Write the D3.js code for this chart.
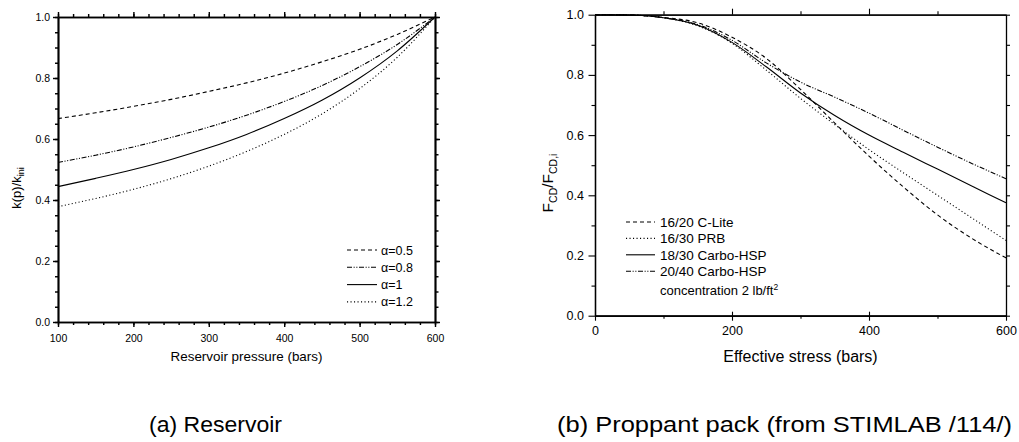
<!DOCTYPE html>
<html>
<head>
<meta charset="utf-8">
<script src="https://cdn.jsdelivr.net/npm/d3@7"></script>
<style>
  body { margin: 0; background: #fff; }
  svg { display: block; }
  text { font-family: "Liberation Sans", Arial, Helvetica, sans-serif; fill: #000; }
</style>
</head>
<body>
<script>
// (a) reservoir: k(p)/k_ini against reservoir pressure
var pressure = [100, 150, 200, 250, 300, 350, 400, 450, 500, 550, 600];
var kAlpha05 = [0.667, 0.686, 0.707, 0.730, 0.756, 0.784, 0.816, 0.853, 0.894, 0.943, 1.0];
var kAlpha08 = [0.523, 0.547, 0.574, 0.605, 0.639, 0.678, 0.723, 0.775, 0.837, 0.910, 1.0];
var kAlpha1  = [0.444, 0.471, 0.500, 0.533, 0.571, 0.615, 0.667, 0.727, 0.800, 0.889, 1.0];
var kAlpha12 = [0.378, 0.405, 0.435, 0.470, 0.511, 0.559, 0.615, 0.682, 0.765, 0.868, 1.0];
var alphaLabels = ["\u03b1=0.5", "\u03b1=0.8", "\u03b1=1", "\u03b1=1.2"];

// (b) proppant pack: F_CD/F_CD,i against effective stress
var stress = [0, 50, 100, 150, 200, 250, 300, 350, 400, 450, 500, 550, 600];
var fcdCLite   = [1.0, 0.999, 0.991, 0.973, 0.925, 0.855, 0.752, 0.640, 0.530, 0.428, 0.335, 0.257, 0.192];
var fcdPRB     = [1.0, 0.999, 0.990, 0.963, 0.905, 0.816, 0.722, 0.635, 0.552, 0.475, 0.400, 0.325, 0.250];
var fcdHSP1830 = [1.0, 0.999, 0.990, 0.965, 0.908, 0.827, 0.740, 0.665, 0.600, 0.543, 0.487, 0.431, 0.375];
var fcdHSP2040 = [1.0, 0.999, 0.990, 0.967, 0.915, 0.840, 0.776, 0.726, 0.673, 0.616, 0.560, 0.506, 0.455];
var proppantLabels = ["16/20 C-Lite", "16/30 PRB", "18/30 Carbo-HSP", "20/40 Carbo-HSP"];

var captions = ["(a) Reservoir", "(b) Proppant pack (from STIMLAB /114/)"];

// line styles
var dashed = "4,3", dotted = "1.1,2.4", dashDotDot = "5,1.6,1.1,1.6,1.1,1.6", solid = null;

var svg = d3.select("body").append("svg")
    .attr("width", 1019)
    .attr("height", 442);

function styleAxis(g, lw, fs) {
    g.select(".domain").attr("stroke-width", lw);
    g.selectAll(".tick line").attr("stroke-width", lw * 0.85);
    g.selectAll("text").style("font-size", fs + "px");
}

// ---------- panel (a) ----------
var xL = d3.scaleLinear().domain([100, 600]).range([58, 435]);
var yL = d3.scaleLinear().domain([0, 1]).range([322, 17]);
var gL = svg.append("g");

function axesL() {
    var lw = 1.7, fs = 10.5;
    // bottom
    gL.append("g").attr("transform", "translate(0,322)")
        .call(d3.axisBottom(xL).tickValues(d3.range(100, 601, 20)).tickSize(3).tickSizeOuter(0).tickFormat(""))
        .call(styleAxis, lw, fs);
    gL.append("g").attr("transform", "translate(0,322)")
        .call(d3.axisBottom(xL).tickValues(d3.range(100, 601, 100)).tickSize(5).tickSizeOuter(0).tickPadding(7.5).tickFormat(d3.format("d")))
        .call(styleAxis, lw, fs);
    // top
    gL.append("g").attr("transform", "translate(0,17)")
        .call(d3.axisTop(xL).tickValues(d3.range(100, 601, 20)).tickSize(3).tickSizeOuter(0).tickFormat(""))
        .call(styleAxis, lw, fs);
    gL.append("g").attr("transform", "translate(0,17)")
        .call(d3.axisTop(xL).tickValues(d3.range(100, 601, 100)).tickSize(5).tickSizeOuter(0).tickFormat(""))
        .call(styleAxis, lw, fs);
    // left
    gL.append("g").attr("transform", "translate(58,0)")
        .call(d3.axisLeft(yL).tickValues(d3.range(0, 21).map(function(i) { return i * 0.05; })).tickSize(3).tickSizeOuter(0).tickFormat(""))
        .call(styleAxis, lw, fs);
    gL.append("g").attr("transform", "translate(58,0)")
        .call(d3.axisLeft(yL).tickValues([0, 0.2, 0.4, 0.6, 0.8, 1.0]).tickSize(5).tickSizeOuter(0).tickPadding(3).tickFormat(d3.format(".1f")))
        .call(styleAxis, lw, fs);
    // right
    gL.append("g").attr("transform", "translate(435,0)")
        .call(d3.axisRight(yL).tickValues(d3.range(0, 21).map(function(i) { return i * 0.05; })).tickSize(3.5).tickSizeOuter(0).tickFormat(""))
        .call(styleAxis, lw, fs);
    gL.append("g").attr("transform", "translate(435,0)")
        .call(d3.axisRight(yL).tickValues([0, 0.2, 0.4, 0.6, 0.8, 1.0]).tickSize(5).tickSizeOuter(0).tickFormat(""))
        .call(styleAxis, lw, fs);
}
axesL();

var seriesL = [kAlpha05, kAlpha08, kAlpha1, kAlpha12];
var dashL = [dashed, dashDotDot, solid, dotted];

var lineL = d3.line()
    .x(function(d, i) { return xL(pressure[i]); })
    .y(function(d) { return yL(d); })
    .curve(d3.curveMonotoneX);

gL.selectAll(".curve")
    .data(seriesL)
    .enter().append("path")
    .attr("class", "curve")
    .attr("d", lineL)
    .attr("fill", "none")
    .attr("stroke", "#000")
    .attr("stroke-width", 1.1)
    .attr("stroke-dasharray", function(d, i) { return dashL[i]; });

// legend (a)
var legL = gL.append("g");
alphaLabels.forEach(function(lab, i) {
    var yy = 250 + i * 17.3;
    legL.append("line").attr("x1", 347).attr("x2", 377).attr("y1", yy).attr("y2", yy)
        .attr("stroke", "#000").attr("stroke-width", 1.1).attr("stroke-dasharray", dashL[i]);
    legL.append("text").attr("x", 381).attr("y", yy + 4.5).style("font-size", "12.5px").text(lab);
});

// axis titles (a)
gL.append("text")
    .attr("x", 246.5).attr("y", 361)
    .attr("text-anchor", "middle")
    .style("font-size", "13.4px")
    .text("Reservoir pressure (bars)");

var yTitleL = gL.append("text")
    .attr("transform", "translate(20.5,188) rotate(-90)")
    .attr("text-anchor", "middle")
    .style("font-size", "13px");
yTitleL.append("tspan").text("k(p)/k");
yTitleL.append("tspan").attr("dy", 3).style("font-size", "9px").text("ini");

// ---------- panel (b) ----------
var xR = d3.scaleLinear().domain([0, 600]).range([595, 1006]);
var yR = d3.scaleLinear().domain([0, 1]).range([315.7, 14.7]);
var gR = svg.append("g");

function axesR() {
    var lw = 1.3, fs = 12.5;
    // bottom
    gR.append("g").attr("transform", "translate(0,315.7)")
        .call(d3.axisBottom(xR).tickValues([100, 300, 500]).tickSize(3).tickSizeOuter(0).tickFormat(""))
        .call(styleAxis, lw, fs);
    gR.append("g").attr("transform", "translate(0,315.7)")
        .call(d3.axisBottom(xR).tickValues([200, 400]).tickSize(-4).tickSizeOuter(0).tickFormat(""))
        .call(styleAxis, lw, fs);
    gR.append("g").attr("transform", "translate(0,315.7)")
        .call(d3.axisBottom(xR).tickValues([0, 200, 400, 600]).tickSize(5).tickSizeOuter(0).tickPadding(5.5).tickFormat(d3.format("d")))
        .call(styleAxis, lw, fs);
    // top
    gR.append("g").attr("transform", "translate(0,14.7)")
        .call(d3.axisTop(xR).tickValues([100, 300, 500]).tickSize(3.5).tickSizeOuter(0).tickFormat(""))
        .call(styleAxis, lw, fs);
    gR.append("g").attr("transform", "translate(0,14.7)")
        .call(d3.axisTop(xR).tickValues([200, 400]).tickSize(6).tickSizeOuter(0).tickFormat(""))
        .call(styleAxis, lw, fs);
    // left
    gR.append("g").attr("transform", "translate(595,0)")
        .call(d3.axisLeft(yR).tickValues([0.1, 0.3, 0.5, 0.7, 0.9]).tickSize(3.5).tickSizeOuter(0).tickFormat(""))
        .call(styleAxis, lw, fs);
    gR.append("g").attr("transform", "translate(595,0)")
        .call(d3.axisLeft(yR).tickValues([0, 0.2, 0.4, 0.6, 0.8, 1.0]).tickSize(6.5).tickSizeOuter(0).tickPadding(4.5).tickFormat(d3.format(".1f")))
        .call(styleAxis, lw, fs);
    // right
    gR.append("g").attr("transform", "translate(1006,0)")
        .call(d3.axisRight(yR).tickValues(d3.range(0, 11).map(function(i) { return i * 0.1; })).tickSize(4).tickSizeOuter(0).tickFormat(""))
        .call(styleAxis, lw, fs);
}
axesR();

var seriesR = [fcdCLite, fcdPRB, fcdHSP1830, fcdHSP2040];
var dashR = [dashed, dotted, solid, dashDotDot];

var lineR = d3.line()
    .x(function(d, i) { return xR(stress[i]); })
    .y(function(d) { return yR(d); })
    .curve(d3.curveMonotoneX);

gR.selectAll(".curve")
    .data(seriesR)
    .enter().append("path")
    .attr("class", "curve")
    .attr("d", lineR)
    .attr("fill", "none")
    .attr("stroke", "#000")
    .attr("stroke-width", 1.1)
    .attr("stroke-dasharray", function(d, i) { return dashR[i]; });

// legend (b)
var legR = gR.append("g");
proppantLabels.forEach(function(lab, i) {
    var yy = 222 + i * 16.4;
    legR.append("line").attr("x1", 626).attr("x2", 655).attr("y1", yy).attr("y2", yy)
        .attr("stroke", "#000").attr("stroke-width", 1.1).attr("stroke-dasharray", dashR[i]);
    legR.append("text").attr("x", 660).attr("y", yy + 5).style("font-size", "13.5px").text(lab);
});
var conc = legR.append("text").attr("x", 660).attr("y", 295).style("font-size", "13px");
conc.append("tspan").text("concentration 2 lb/ft");
conc.append("tspan").attr("dy", -5).style("font-size", "8.5px").text("2");

// axis titles (b)
gR.append("text")
    .attr("x", 800.5).attr("y", 362)
    .attr("text-anchor", "middle")
    .style("font-size", "16px")
    .text("Effective stress (bars)");

var yTitleR = gR.append("text")
    .attr("transform", "translate(553,183) rotate(-90)")
    .attr("text-anchor", "middle")
    .style("font-size", "15.5px");
yTitleR.append("tspan").text("F");
yTitleR.append("tspan").attr("dy", 4).style("font-size", "10.5px").text("CD");
yTitleR.append("tspan").attr("dy", -4).text("/F");
yTitleR.append("tspan").attr("dy", 4).style("font-size", "10.5px").text("CD,i");

// ---------- captions ----------
var capX = [215.5, 784.5], capW = [133, 455];
svg.selectAll(".caption")
    .data(captions)
    .enter().append("text")
    .attr("class", "caption")
    .attr("x", function(d, i) { return capX[i]; })
    .attr("y", 432)
    .attr("text-anchor", "middle")
    .attr("textLength", function(d, i) { return capW[i]; })
    .attr("lengthAdjust", "spacingAndGlyphs")
    .style("font-size", "22px")
    .text(function(d) { return d; });
</script>
</body>
</html>
